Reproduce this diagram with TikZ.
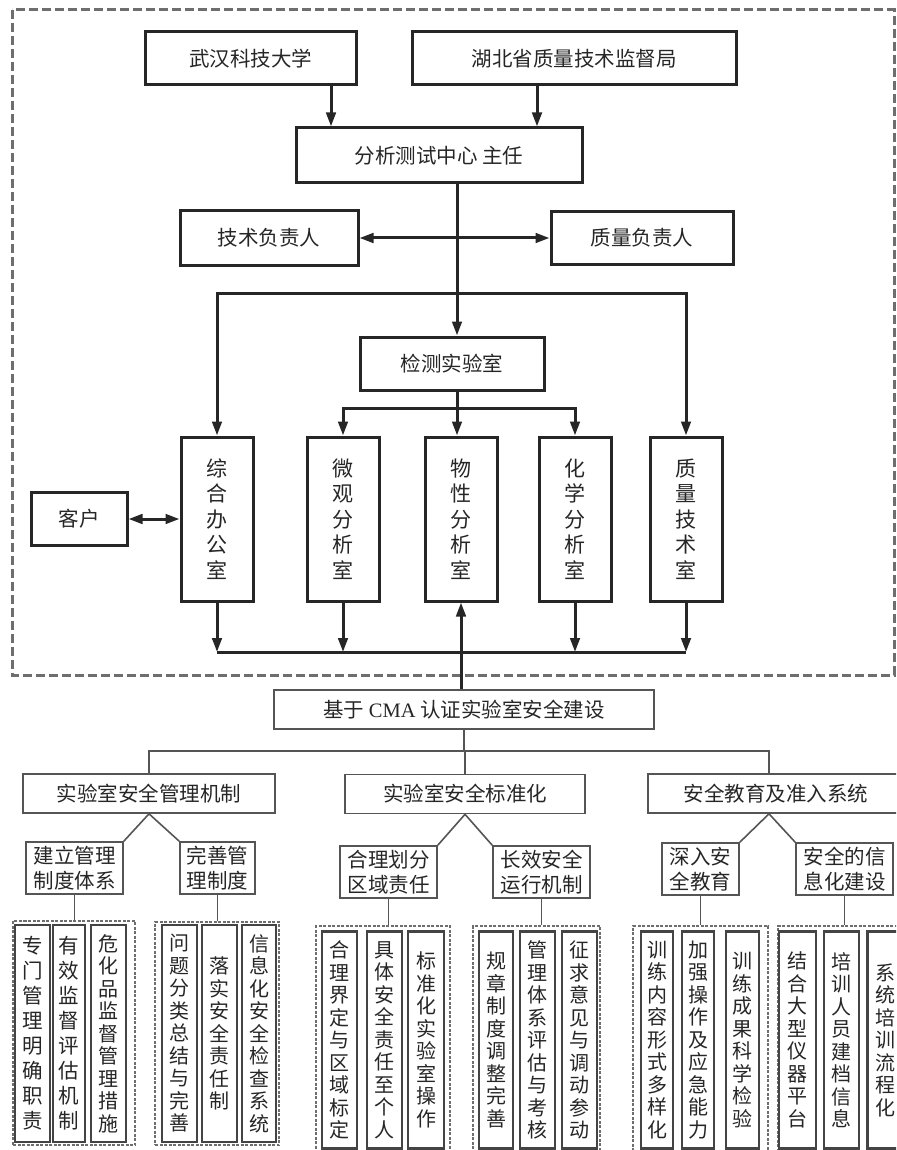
\documentclass[tikz,border=0pt]{standalone}
\usepackage{fontspec}
\setmainfont{Noto Sans CJK SC}
\newfontfamily\latfont{Liberation Serif}
\usetikzlibrary{arrows.meta,calc}
\definecolor{ink}{HTML}{262626}
\definecolor{gline}{HTML}{555555}
\definecolor{iline}{HTML}{444444}
\definecolor{dgray}{HTML}{6E6E6E}
\begin{document}
\begin{tikzpicture}[x=1pt,y=-1pt,
  tb/.style={draw=ink, line width=3pt, text=ink, inner sep=0pt, font=\fontsize{20.5}{24}\selectfont},
  lab/.style={tb, minimum width=72pt, minimum height=164pt, align=center, font=\fontsize{21}{25.5}\selectfont},
  arr/.style={draw=ink, line width=3pt, -{Triangle[length=14pt,width=9.5pt]}},
  darr/.style={draw=ink, line width=3pt, {Triangle[length=14pt,width=9.5pt]}-{Triangle[length=14pt,width=9.5pt]}},
  thk/.style={draw=ink, line width=3pt},
  bb/.style={draw=gline, line width=1.6pt, text=ink, inner sep=0pt, font=\fontsize{20.5}{24}\selectfont, minimum height=39pt},
  cb/.style={bb, align=center, minimum height=52pt, font=\fontsize{20.5}{25}\selectfont},
  itm/.style={draw=iline, line width=2.2pt, inner sep=0pt, align=center, minimum width=34pt, minimum height=217pt, text=ink, font=\fontsize{20}{22.5}\selectfont},
  itmw/.style={itm, font=\fontsize{20.5}{25}\selectfont},
  grp/.style={draw=dgray, line width=2.2pt, dash pattern=on 3pt off 1.5pt, inner sep=0pt},
  ln/.style={draw=gline, line width=1.6pt}
]
\useasboundingbox (0,0) rectangle (896,1150);
\clip (0,0) rectangle (896,1150);
\fill[white] (0,0) rectangle (896,1150);

% outer dashed frame
\draw[draw=dgray, line width=3pt, dash pattern=on 9pt off 4pt] (12,10) rectangle (894,675);

% ---------- top part ----------
\node[tb, minimum width=211pt, minimum height=53pt] (wuhan) at (250.5,58.5) {武汉科技大学};
\node[tb, minimum width=324pt, minimum height=53pt] (hubei) at (574,58.5) {湖北省质量技术监督局};
\node[tb, minimum width=286pt, minimum height=55pt] (fenxi) at (439,155.5) {分析测试中心 主任};
\node[tb, minimum width=178pt, minimum height=55pt] (jishu) at (269,238) {技术负责人};
\node[tb, minimum width=182pt, minimum height=53pt] (zhiliang) at (642,238) {质量负责人};
\node[tb, minimum width=184pt, minimum height=53pt] (jiance) at (452,363.5) {检测实验室};

\node[lab] (zonghe) at (217,519) {综\\合\\办\\公\\室};
\node[lab] (weiguan) at (343,519) {微\\观\\分\\析\\室};
\node[lab] (wuxing) at (461,519) {物\\性\\分\\析\\室};
\node[lab] (huaxue) at (575,519) {化\\学\\分\\析\\室};
\node[lab] (zlj) at (686,519) {质\\量\\技\\术\\室};
\node[tb, minimum width=96pt, minimum height=53pt] (kehu) at (79,519) {客户};

\coordinate (a1) at (331,0);
\coordinate (a2) at (537,0);
\coordinate (cx) at (457,0);
\coordinate (ly) at (0,293);
\coordinate (jy) at (0,408);
\coordinate (by) at (0,652);

\draw[arr] (wuhan.south -| a1) -- (fenxi.north -| a1);
\draw[arr] (hubei.south -| a2) -- (fenxi.north -| a2);
\draw[arr] (fenxi.south -| cx) -- (jiance.north -| cx);
\draw[darr] (jishu.east) -- (zhiliang.west);
\draw[arr] (ly -| cx) -| (zonghe.north);
\draw[arr] (ly -| cx) -| (zlj.north);
\draw[thk] (jiance.south -| cx) -- (jy -| cx);
\draw[arr] (jy -| cx) -| (weiguan.north);
\draw[arr] (jy -| cx) -| (huaxue.north);
\draw[arr] (jiance.south -| cx) -- (wuxing.north -| cx);
\draw[darr] (kehu.east) -- (zonghe.west);

\draw[arr] (zonghe.south) -- (zonghe.south |- by);
\draw[arr] (weiguan.south) -- (weiguan.south |- by);
\draw[arr] (huaxue.south) -- (huaxue.south |- by);
\draw[arr] (zlj.south) -- (zlj.south |- by);
\draw[thk] (zonghe.south |- by) -- (zlj.south |- by);

% ---------- bottom part ----------
\node[bb, minimum width=380pt] (cma) at (464,709.5) {基于 {\latfont CMA} 认证实验室安全建设};
\draw[arr] (cma.north -| wuxing) -- (wuxing.south);

\node[bb, minimum width=252pt] (g1) at (149,793.5) {实验室安全管理机制};
\node[bb, minimum width=240pt] (g2) at (465,794) {实验室安全标准化};
\node[bb, minimum width=256pt] (g3) at (776,793.5) {安全教育及准入系统\hspace{20pt}};
\coordinate (g3c) at (769,0);

\coordinate (ty) at (0,751);
\draw[ln] (cma.south) -- (cma.south |- ty);
\draw[ln] (g1.north) -- (g1.north |- ty) -- (ty -| g3c) -- (g3.north -| g3c);
\draw[ln] (g2.north |- ty) -- (g2.north);

\node[cb, minimum width=97pt] (b11) at (74.5,868) {建立管理\\制度体系};
\node[cb, minimum width=75pt] (b12) at (217.5,868) {完善管\\理制度};
\node[cb, minimum width=97pt] (b21) at (388.5,872) {合理划分\\区域责任};
\node[cb, minimum width=97pt] (b22) at (541.5,872) {长效安全\\运行机制};
\node[cb, minimum width=77pt] (b31) at (700.5,869) {深入安\\全教育};
\node[cb, minimum width=97pt] (b32) at (844.5,869) {安全的信\\息化建设};

\draw[ln] (g1.south) -- (b11.north east);
\draw[ln] (g1.south) -- (b12.north west);
\draw[ln] (g2.south) -- (b21.north east);
\draw[ln] (g2.south) -- (b22.north west);
\draw[ln] (g3.south -| g3c) -- (b31.north east);
\draw[ln] (g3.south -| g3c) -- (b32.north west);

% dashed groups
\node[grp, minimum width=122pt, minimum height=224pt] (G1) at (74,1033) {};
\node[grp, minimum width=124pt, minimum height=223pt] (G2) at (217,1033.5) {};
\node[grp, minimum width=134pt, minimum height=228pt] (G3) at (383,1040) {};
\node[grp, minimum width=127pt, minimum height=228pt] (G4) at (536.5,1040) {};
\node[grp, minimum width=135pt, minimum height=228pt] (G5) at (700.5,1040) {};
\node[grp, minimum width=137pt, minimum height=228pt] (G6) at (846.5,1040) {};

\draw[ln] (b11.south) -- (b11.south |- G1.north);
\draw[ln] (b12.south) -- (b12.south |- G2.north);
\draw[ln] (b21.south) -- (b21.south |- G3.north);
\draw[ln] (b22.south) -- (b22.south |- G4.north);
\draw[ln] (b31.south) -- (b31.south |- G5.north);
\draw[ln] (b32.south) -- (b32.south |- G6.north);

% items
\node[itmw, minimum width=35pt] (i11) at (32.5,1033.5) {专\\门\\管\\理\\明\\确\\职\\责};
\node[itmw, minimum width=32pt] (i12) at (69,1033.5) {有\\效\\监\\督\\评\\估\\机\\制};
\node[itm, minimum width=35pt] (i13) at (108.5,1033.5) {危\\化\\品\\监\\督\\管\\理\\措\\施};
\node[itm, minimum width=35pt] (i21) at (179.5,1033.5) {问\\题\\分\\类\\总\\结\\与\\完\\善};
\node[itm, minimum width=35pt] (i22) at (219.5,1033.5) {落\\实\\安\\全\\责\\任\\制};
\node[itm, minimum width=34pt] (i23) at (259,1033.5) {信\\息\\化\\安\\全\\检\\查\\系\\统};

\node[itm, minimum width=35pt] (i31) at (339.5,1040) {合\\理\\界\\定\\与\\区\\域\\标\\定};
\node[itm, minimum width=35pt] (i32) at (384.5,1040) {具\\体\\安\\全\\责\\任\\至\\个\\人};
\node[itm, minimum width=36pt] (i33) at (426,1040) {标\\准\\化\\实\\验\\室\\操\\作};
\node[itm, minimum width=34pt] (i41) at (496,1040) {规\\章\\制\\度\\调\\整\\完\\善};
\node[itm, minimum width=35pt] (i42) at (537.5,1040) {管\\理\\体\\系\\评\\估\\与\\考\\核};
\node[itm, minimum width=35pt] (i43) at (579.5,1040) {征\\求\\意\\见\\与\\调\\动\\参\\动};
\node[itm, minimum width=32pt] (i51) at (657,1040) {训\\练\\内\\容\\形\\式\\多\\样\\化};
\node[itm, minimum width=32pt] (i52) at (698,1040) {加\\强\\操\\作\\及\\应\\急\\能\\力};
\node[itm, minimum width=33pt] (i53) at (742.5,1040) {训\\练\\成\\果\\科\\学\\检\\验};
\node[itm, minimum width=37pt] (i61) at (797.5,1040) {结\\合\\大\\型\\仪\\器\\平\\台};
\node[itm, minimum width=35pt] (i62) at (841.5,1040) {培\\训\\人\\员\\建\\档\\信\\息};
\node[itm, minimum width=36pt] (i63) at (885.5,1040) {系\\统\\培\\训\\流\\程\\化};
\end{tikzpicture}
\end{document}
